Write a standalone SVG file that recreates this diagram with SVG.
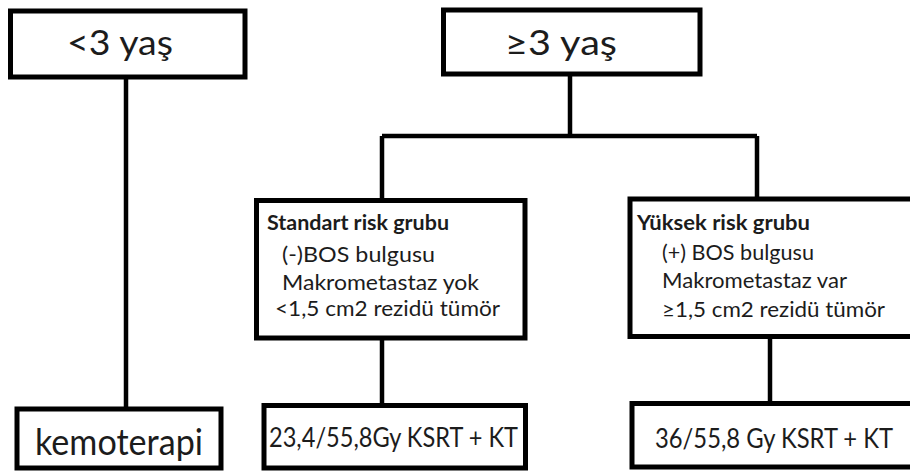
<svg xmlns="http://www.w3.org/2000/svg" width="910" height="476" viewBox="0 0 910 476">
<style>
.box{fill:#fff;stroke:#000;stroke-width:5}
.con{fill:none;stroke:#000;stroke-width:4.5}
text{font-family:Lato,"Liberation Sans",sans-serif;fill:#1c1c1c}
.t{font-size:34px}
.k{font-size:36px}
.r{font-size:22px}
.b{font-size:21px;font-weight:bold}
.m{font-size:26px}
</style>
<rect width="910" height="476" fill="#fff"/>
<g id="connectors">
<path class="con" d="M126 77V409"/>
<path class="con" d="M570 74V136M382 136H757M382 136V200.5M757 136V199"/>
<path class="con" d="M382 338V405.5"/>
<path class="con" d="M770 336.5V401.5"/>
</g>
<g id="n1">
<rect class="box" x="10.5" y="11" width="234.5" height="66"/>
<text class="t" x="67" y="55" textLength="106" lengthAdjust="spacingAndGlyphs">&lt;3 yaş</text>
</g>
<g id="n2">
<rect class="box" x="443.5" y="10" width="256.5" height="64"/>
<text class="t" x="505" y="55" textLength="112" lengthAdjust="spacingAndGlyphs">≥3 yaş</text>
</g>
<g id="n3">
<rect class="box" x="256.5" y="200.5" width="268.5" height="137.5"/>
<text class="b" x="267" y="230" textLength="182" lengthAdjust="spacingAndGlyphs">Standart risk grubu</text>
<text class="r" x="282" y="262" textLength="153" lengthAdjust="spacingAndGlyphs">(-)BOS bulgusu</text>
<text class="r" x="282" y="290" textLength="197" lengthAdjust="spacingAndGlyphs">Makrometastaz yok</text>
<text class="r" x="275" y="316" textLength="225" lengthAdjust="spacingAndGlyphs">&lt;1,5 cm2 rezidü tümör</text>
</g>
<g id="n4">
<rect class="box" x="630" y="199" width="300" height="137.5"/>
<text class="b" x="637" y="230" textLength="173" lengthAdjust="spacingAndGlyphs">Yüksek risk grubu</text>
<text class="r" x="662" y="260" textLength="152" lengthAdjust="spacingAndGlyphs">(+) BOS bulgusu</text>
<text class="r" x="662" y="288" textLength="185" lengthAdjust="spacingAndGlyphs">Makrometastaz var</text>
<text class="r" x="662" y="317" textLength="223" lengthAdjust="spacingAndGlyphs">≥1,5 cm2 rezidü tümör</text>
</g>
<g id="n5">
<rect class="box" x="17" y="409" width="204" height="59"/>
<text class="k" x="35" y="455" textLength="168" lengthAdjust="spacingAndGlyphs">kemoterapi</text>
</g>
<g id="n6">
<rect class="box" x="264" y="405.5" width="261.5" height="62.5"/>
<text class="m" x="269" y="447" textLength="249" lengthAdjust="spacingAndGlyphs">23,4/55,8Gy KSRT + KT</text>
</g>
<g id="n7">
<rect class="box" x="632" y="403.5" width="300" height="63.5"/>
<text class="m" x="655" y="448" textLength="238" lengthAdjust="spacingAndGlyphs">36/55,8 Gy KSRT + KT</text>
</g>
</svg>
